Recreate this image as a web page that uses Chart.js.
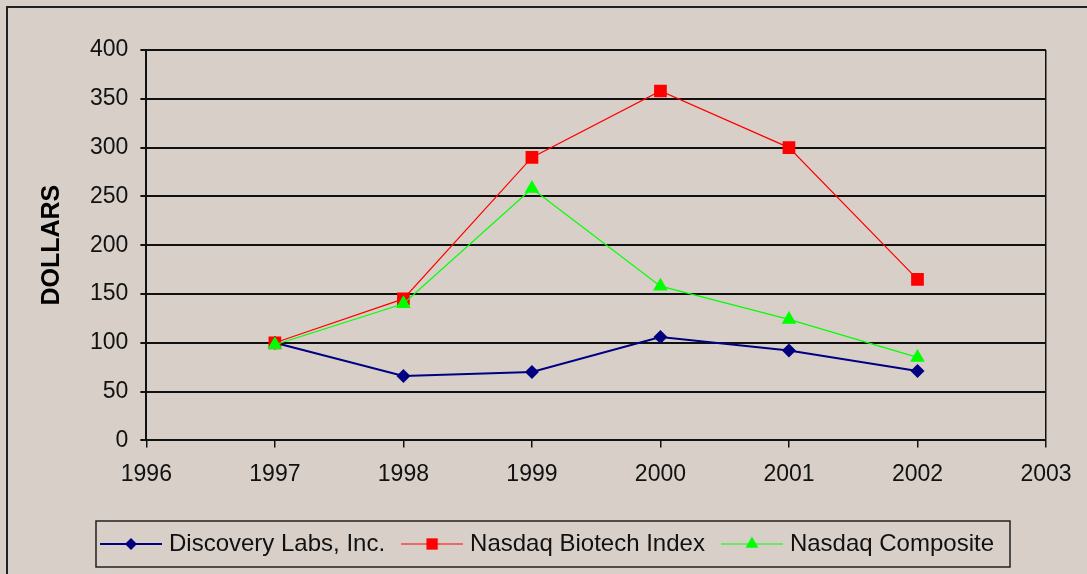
<!DOCTYPE html>
<html>
<head>
<meta charset="utf-8">
<script src="https://cdn.jsdelivr.net/npm/chart.js@4.4.0/dist/chart.umd.min.js"></script>
<style>
  html, body { margin: 0; padding: 0; background: #d8d0c8; overflow: hidden; }
  #frame { position: absolute; left: 6px; top: 6px; width: 1200px; height: 700px; border: 2px solid #222; }
  #wrap { position: absolute; left: 0; top: 0; width: 1087px; height: 574px; }
</style>
</head>
<body>
<div id="frame"></div>
<div id="wrap"><canvas id="chart" width="1087" height="574"></canvas></div>
<script>
const years = [1997, 1998, 1999, 2000, 2001, 2002];
const discoveryLabs = [100, 66, 70, 106, 92, 71];
const biotechIndex = [100, 145, 290, 358, 300, 165];
const nasdaqComposite = [98, 140, 258, 158, 124, 85];
const seriesNames = ["Discovery Labs, Inc.", "Nasdaq Biotech Index", "Nasdaq Composite"];

const font = "'Liberation Sans', Arial, sans-serif";

// pair each year with a value for the linear x axis
const toPoints = (values) => years.map((year, i) => ({ x: year, y: values[i] }));

// small canvas with a line and the marker, used as the legend symbol
const legendSymbol = (color, style, radius, lineWidth) => {
  const c = document.createElement("canvas");
  c.width = 62;
  c.height = 22;
  const ctx = c.getContext("2d");
  ctx.strokeStyle = color;
  ctx.lineWidth = lineWidth;
  ctx.beginPath();
  ctx.moveTo(0, 11);
  ctx.lineTo(62, 11);
  ctx.stroke();
  ctx.fillStyle = color;
  Chart.helpers.drawPoint(ctx, { pointStyle: style, radius: radius, borderWidth: 0 }, 31, 11);
  return c;
};

const datasets = [
  {
    label: seriesNames[0],
    data: toPoints(discoveryLabs),
    borderColor: "#000080",
    backgroundColor: "#000080",
    borderWidth: 2,
    pointStyle: "rectRot",
    pointRadius: 7,
    pointBorderWidth: 0,
    order: 2,
  },
  {
    label: seriesNames[1],
    data: toPoints(biotechIndex),
    borderColor: "#ff0000",
    backgroundColor: "#ff0000",
    borderWidth: 1.2,
    pointStyle: "rect",
    pointRadius: 9,
    pointBorderWidth: 0,
    order: 1,
  },
  {
    label: seriesNames[2],
    data: toPoints(nasdaqComposite),
    borderColor: "#00ff00",
    backgroundColor: "#00ff00",
    borderWidth: 1.2,
    pointStyle: "triangle",
    pointRadius: 8.5,
    pointBorderWidth: 0,
    order: 0,
  },
];

// nudges the legend a little right and draws a box round its items
const legendBox = {
  id: "legendBox",
  afterLayout(chart) {
    chart.legend.left += 8;
    chart.legend.right += 8;
  },
  afterDraw(chart) {
    const boxes = chart.legend.legendHitBoxes;
    if (!boxes || !boxes.length) return;
    const left = Math.min(...boxes.map((b) => b.left)) - 9;
    const right = Math.max(...boxes.map((b) => b.left + b.width)) + 16;
    const mid = boxes[0].top + boxes[0].height / 2;
    const ctx = chart.ctx;
    ctx.save();
    ctx.strokeStyle = "#222";
    ctx.lineWidth = 1.5;
    ctx.strokeRect(left, mid - 23, right - left, 46);
    ctx.restore();
  },
};

new Chart(document.getElementById("chart"), {
  type: "line",
  data: { datasets: datasets },
  options: {
    responsive: false,
    animation: false,
    layout: { padding: { top: 50, right: 41, left: 37, bottom: 8 } },
    plugins: {
      tooltip: { enabled: false },
      legend: {
        position: "bottom",
        labels: {
          usePointStyle: true,
          pointStyleWidth: 52,
          padding: 21,
          color: "#111",
          font: { family: font, size: 24 },
          generateLabels: (chart) =>
            chart.data.datasets.map((ds, i) => ({
              text: ds.label,
              datasetIndex: i,
              fontColor: "#111",
              lineWidth: 0,
              pointStyle: legendSymbol(ds.borderColor, ds.pointStyle, ds.pointRadius - 1, ds.borderWidth),
            })),
        },
      },
    },
    scales: {
      x: {
        type: "linear",
        min: 1996,
        max: 2003,
        afterFit: (scale) => {
          scale.height += 10;
        },
        ticks: {
          stepSize: 1,
          color: "#111",
          padding: 13,
          font: { family: font, size: 23 },
          callback: (v) => String(v),
        },
        grid: {
          color: (ctx) => (ctx.tick && ctx.tick.value === 2003 ? "#111" : "transparent"),
          tickColor: "#111",
          tickLength: 7,
          lineWidth: 1.5,
        },
        border: { color: "#111", width: 2 },
      },
      y: {
        min: 0,
        max: 400,
        ticks: {
          stepSize: 50,
          color: "#111",
          padding: 12,
          font: { family: font, size: 23 },
        },
        grid: {
          color: "#111",
          tickColor: "#111",
          tickLength: 6,
          lineWidth: 2,
        },
        border: { color: "#111", width: 2 },
        title: {
          display: true,
          text: "DOLLARS",
          color: "#000",
          padding: { top: 0, bottom: 11 },
          font: { family: font, size: 25, weight: "bold" },
        },
      },
    },
  },
  plugins: [legendBox],
});
</script>
</body>
</html>
